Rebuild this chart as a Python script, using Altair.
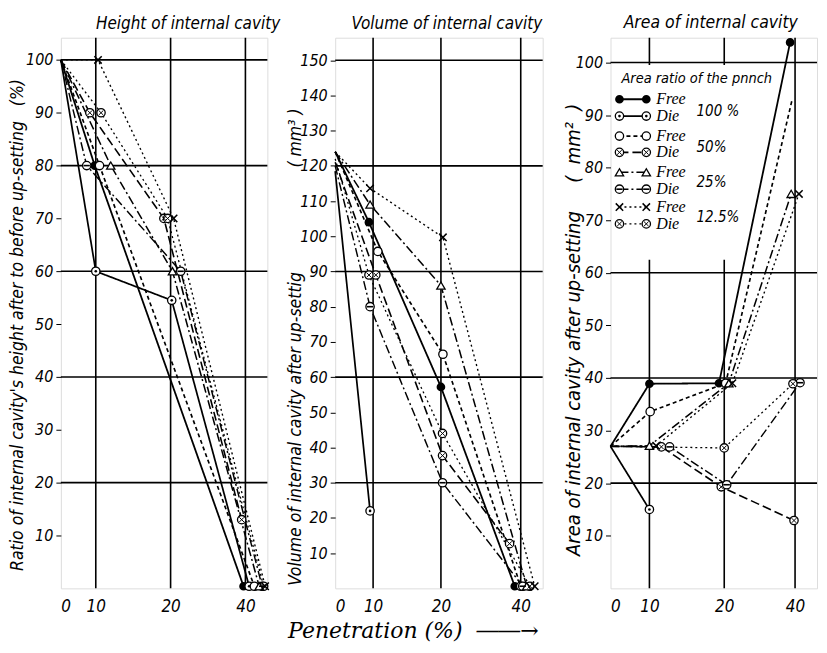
import altair as alt
import pandas as pd

FONT = "Liberation Sans Narrow, DejaVu Sans Condensed, Liberation Sans, sans-serif"
SERIF = "DejaVu Serif, Liberation Serif, serif"

SERIES = ["Free 100%", "Die 100%", "Free 50%", "Die 50%",
          "Free 25%", "Die 25%", "Free 12.5%", "Die 12.5%"]
DASHES = [[1, 0], [1, 0], [4, 3], [9, 4], [9, 3, 2, 3], [9, 3, 2, 3], [2, 3], [2, 3]]
WIDTHS = [1.8, 1.3, 1.1, 1.1, 1.1, 1.1, 1.1, 1.1]

# ---------------- Panel 1 : height ratio (%) ----------------
height_x = {
    "Free 100%": [0, 9.7, 39.5],
    "Die 100%": [0, 10.0, 20.3, 41.0],
    "Free 50%": [0, 10.5, 42.4],
    "Die 50%": [0, 8.3, 19.1, 39.0],
    "Free 25%": [0, 12.0, 20.5, 43.7],
    "Die 25%": [0, 7.4, 22.7, 44.5],
    "Free 12.5%": [0, 10.3, 20.8, 45.3],
    "Die 12.5%": [0, 10.7, 19.6, 44.9],
}
height_y = {
    "Free 100%": [100, 80, 0.4],
    "Die 100%": [100, 60, 54.5, 0.4],
    "Free 50%": [100, 80, 0.4],
    "Die 50%": [100, 90, 70, 13],
    "Free 25%": [100, 80, 60, 0.4],
    "Die 25%": [100, 80, 60, 0.4],
    "Free 12.5%": [100, 100, 70, 0.4],
    "Die 12.5%": [100, 90, 70, 0.4],
}

# ---------------- Panel 2 : volume (mm3) ----------------
volume_x = {
    "Free 100%": [0, 8.9, 20.0, 38.5],
    "Die 100%": [0, 9.2],
    "Free 50%": [0, 10.7, 20.5, 40.0],
    "Die 50%": [0, 10.4, 20.4, 37.2],
    "Free 25%": [0, 9.2, 20.0, 41.5],
    "Die 25%": [0, 9.2, 20.4, 40.5],
    "Free 12.5%": [0, 9.2, 20.5, 43.5],
    "Die 12.5%": [0, 8.9, 20.4, 42.3],
}
volume_y = {
    "Free 100%": [124, 104, 57.2, 0.6],
    "Die 100%": [118.5, 22],
    "Free 50%": [124, 95.7, 66.5, 0.6],
    "Die 50%": [121, 89, 37.7, 12.7],
    "Free 25%": [124, 109, 86, 0.6],
    "Die 25%": [120, 80, 30, 0.6],
    "Free 12.5%": [124, 113.6, 99.7, 0.6],
    "Die 12.5%": [122, 89, 44, 0.6],
}

# ---------------- Panel 3 : area (mm2) ----------------
area_x = {
    "Free 100%": [0, 10.0, 19.3, 38.6],
    "Die 100%": [0, 10.0],
    "Free 50%": [0, 10.1, 20.4, 39.2],
    "Die 50%": [0, 11.6, 19.6, 39.7],
    "Free 25%": [0, 10.0, 21.3, 38.9],
    "Die 25%": [0, 12.7, 20.7, 41.4],
    "Free 12.5%": [0, 10.9, 22.3, 41.1],
    "Die 12.5%": [0, 20.0, 39.4],
}
area_y = {
    "Free 100%": [27, 38.9, 39, 103.8],
    "Die 100%": [27, 15],
    "Free 50%": [27, 33.6, 39, 93],
    "Die 50%": [27, 26.9, 19.3, 12.9],
    "Free 25%": [27, 27.1, 39, 75],
    "Die 25%": [27, 26.9, 19.7, 39.1],
    "Free 12.5%": [27, 27.1, 39, 75],
    "Die 12.5%": [27, 26.7, 38.9],
}
NO_MARKER = [("area", "Free 50%", 3)]

# legend (drawn inside the area panel)
LEG_LABELS = ["Free", "Die", "Free", "Die", "Free", "Die", "Free", "Die"]
LEG_Y = [93.0, 89.8, 86.0, 82.9, 79.1, 75.9, 72.5, 69.3]
LEG_X = [2.3, 9.2]
LEG_TEXT_X = 10.9
RATIO_LABELS = ["100 %", "50%", "25%", "12.5%"]
RATIO_Y = [90.7, 83.9, 77.2, 70.6]
RATIO_X = 16.3
LEG_TITLE = "Area ratio of the pnnch"
LEG_TITLE_POS = [2.8, 96.8]
LEG_BOX = [0.8, 30.0, 62.5, 99.5]

# grid lines
H_GRID = {"height": [100, 80, 60, 40, 20],
          "volume": [150, 120, 90, 60, 30],
          "area": [100, 60, 40, 20]}
V_GRID = [10, 20, 40]
Y_TICKS = {"height": list(range(10, 101, 10)),
           "volume": list(range(10, 151, 10)),
           "area": list(range(10, 101, 10))}
X_TICKS = [0, 10, 20, 40]

X_DOMAIN = {"height": [0, 10, 20, 40, 45.9],
            "volume": [0, 10, 20, 40, 45.5],
            "area": [0, 10, 20, 40, 46.2]}
X_RANGE = {"height": [0, 35, 110, 185, 207],
           "volume": [0, 38, 106, 186, 208],
           "area": [0, 39, 114, 185, 207]}
Y_DOMAIN = {"height": [0, 104.2], "volume": [0, 156.4], "area": [0, 104.7]}

TITLES = {"height": "Height of internal cavity",
          "volume": "Volume of internal cavity",
          "area": "Area of internal cavity"}
NB = "\u00a0"
Y_TITLES = {
    "height": "Ratio of internal cavity's height after to before up-setting" + NB * 3 + "(%)",
    "volume": "Volume of internal cavity after up-settig" + NB * 21 + "(" + NB + "mm\u00b3" + NB + ")",
    "area": "Area" + NB + "of" + NB + "internal" + NB + "cavity" + NB + "after" + NB + "up-setting"
            + NB * 5 + "(" + NB * 2 + "mm\u00b2" + NB * 2 + ")",
}
Y_TITLE_SIZE = {"height": 17.5, "volume": 17.5, "area": 20}
Y_TITLE_X = {"height": -43, "volume": -40, "area": -37}
Y_TITLE_Y = {"height": 534, "volume": 549, "area": 519}
TITLE_SIZE = {"height": 17, "volume": 17, "area": 17.5}
TITLE_DX = {"height": 24, "volume": 8, "area": -3}
WIDTH = {"height": 207, "volume": 208, "area": 207}
HEIGHT = 552

# ---------------- build tables ----------------
rows = []
for panel, xd, yd in [("height", height_x, height_y),
                      ("volume", volume_x, volume_y),
                      ("area", area_x, area_y)]:
    for s in SERIES:
        for i, (xv, yv) in enumerate(zip(xd[s], yd[s])):
            show = 1 if (i > 0 and (panel, s, i) not in NO_MARKER) else 0
            rows.append(dict(panel=panel, series=s, grp=s, x=xv, y=yv, order=i, mark=show))
for s, yv in zip(SERIES, LEG_Y):
    for i, xv in enumerate(LEG_X):
        rows.append(dict(panel="area", series=s, grp="leg " + s, x=xv, y=yv, order=i, mark=1))
df = pd.DataFrame(rows)


def panel_chart(panel):
    X = alt.X("x:Q", scale=alt.Scale(domain=X_DOMAIN[panel], range=X_RANGE[panel],
                                      nice=False, zero=False),
              axis=alt.Axis(values=X_TICKS, title=None, grid=False, domain=False,
                            ticks=False, labelPadding=10, labelFontSize=17,
                            labelFont=FONT, labelFontStyle="italic", labelColor="black"))
    Y = alt.Y("y:Q", scale=alt.Scale(domain=Y_DOMAIN[panel], nice=False, zero=False),
              axis=alt.Axis(values=Y_TICKS[panel], title=Y_TITLES[panel], grid=False,
                            domain=False, ticks=True, tickSize=5, tickColor="black",
                            labelPadding=3, labelFontSize=16, labelFont=FONT,
                            labelFontStyle="italic", labelColor="black",
                            titleFont=FONT, titleFontSize=Y_TITLE_SIZE[panel],
                            titleFontStyle="italic", titleFontWeight="normal",
                            titleColor="black", titleAngle=270, titleAlign="left",
                            titleBaseline="middle", titleX=Y_TITLE_X[panel],
                            titleY=Y_TITLE_Y[panel]))
    base = alt.Chart(df).transform_filter(alt.datum.panel == panel)

    hgrid = alt.Chart(pd.DataFrame({"y": H_GRID[panel]})).mark_rule(
        color="black", strokeWidth=1.6).encode(y=Y)
    vgrid = alt.Chart(pd.DataFrame({"x": V_GRID})).mark_rule(
        color="black", strokeWidth=1.6).encode(x=X)
    layers = [hgrid, vgrid]

    if panel == "area":
        box = pd.DataFrame({"x": [LEG_BOX[0]], "x2": [LEG_BOX[1]],
                            "y": [LEG_BOX[2]], "y2": [LEG_BOX[3]]})
        layers.append(alt.Chart(box).mark_rect(fill="white").encode(
            x=X, x2="x2:Q", y=Y, y2="y2:Q"))

    lines = base.mark_line(color="black").encode(
        x=X, y=Y, detail="grp:N", order="order:Q",
        strokeDash=alt.StrokeDash("series:N", scale=alt.Scale(domain=SERIES, range=DASHES), legend=None),
        strokeWidth=alt.StrokeWidth("series:N", scale=alt.Scale(domain=SERIES, range=WIDTHS), legend=None),
    )
    layers.append(lines)

    pts = base.transform_filter(alt.datum.mark == 1)

    def sel(names):
        return alt.FieldOneOfPredicate(field="series", oneOf=names)

    layers.append(pts.transform_filter(sel(["Free 100%"])).mark_point(
        shape="circle", filled=True, fill="black", stroke="black", size=45, opacity=1).encode(x=X, y=Y))
    layers.append(pts.transform_filter(sel(["Die 100%", "Free 50%", "Die 50%", "Die 25%", "Die 12.5%"])).mark_point(
        shape="circle", filled=True, fill="white", stroke="black", strokeWidth=1.3, size=70, opacity=1).encode(x=X, y=Y))
    layers.append(pts.transform_filter(sel(["Free 25%"])).mark_point(
        shape="triangle-up", filled=True, fill="white", stroke="black", strokeWidth=1.3, size=70, opacity=1).encode(x=X, y=Y))
    layers.append(pts.transform_filter(sel(["Free 12.5%"])).mark_point(
        shape="M-1,-1L1,1M-1,1L1,-1", filled=False, stroke="black", strokeWidth=1.5, size=55, opacity=1).encode(x=X, y=Y))
    # inner marks
    layers.append(pts.transform_filter(sel(["Die 100%"])).mark_point(
        shape="circle", filled=True, fill="black", size=7, opacity=1).encode(x=X, y=Y))
    layers.append(pts.transform_filter(sel(["Die 50%", "Die 12.5%"])).mark_point(
        shape="M-1,-1L1,1M-1,1L1,-1", filled=False, stroke="black", strokeWidth=1, size=22, opacity=1).encode(x=X, y=Y))
    layers.append(pts.transform_filter(sel(["Die 25%"])).mark_point(
        shape="stroke", filled=False, stroke="black", strokeWidth=1.6, size=40, opacity=1).encode(x=X, y=Y))

    if panel == "area":
        lt = pd.DataFrame({"x": [LEG_TITLE_POS[0]], "y": [LEG_TITLE_POS[1]], "t": [LEG_TITLE]})
        layers.append(alt.Chart(lt).mark_text(align="left", baseline="middle", font=FONT,
                                              fontSize=14.5, fontStyle="italic", color="black").encode(
            x=X, y=Y, text="t:N"))
        lr = pd.DataFrame({"x": [LEG_TEXT_X] * len(LEG_LABELS), "y": LEG_Y, "t": LEG_LABELS})
        layers.append(alt.Chart(lr).mark_text(align="left", baseline="middle", font="Liberation Serif, serif",
                                              fontSize=16, fontStyle="italic", color="black").encode(
            x=X, y=Y, text="t:N"))
        rr = pd.DataFrame({"x": [RATIO_X] * len(RATIO_LABELS), "y": RATIO_Y, "t": RATIO_LABELS})
        layers.append(alt.Chart(rr).mark_text(align="left", baseline="middle", font=FONT,
                                              fontSize=15, fontStyle="italic", color="black").encode(
            x=X, y=Y, text="t:N"))

    return alt.layer(*layers).properties(
        width=WIDTH[panel], height=HEIGHT,
        title=alt.TitleParams(TITLES[panel], font=FONT, fontSize=TITLE_SIZE[panel],
                              fontStyle="italic", fontWeight="normal", color="black",
                              anchor="middle", frame="group", dx=TITLE_DX[panel], offset=4))


chart = alt.hconcat(panel_chart("height"), panel_chart("volume"), panel_chart("area"),
                    spacing=68, bounds="flush").properties(
    padding={"left": 0, "top": 4, "right": 0, "bottom": 0},
    title=alt.TitleParams("Penetration (%)" + NB * 2 + "\u2015\u2015\u2192", orient="bottom",
                          anchor="middle", font=SERIF, fontSize=22, fontStyle="italic",
                          fontWeight="normal", color="black", offset=6),
).configure_view(stroke="black", strokeWidth=1.6).configure(background="white")

chart.save("out.html", embed_options={"renderer": "svg", "actions": False})
